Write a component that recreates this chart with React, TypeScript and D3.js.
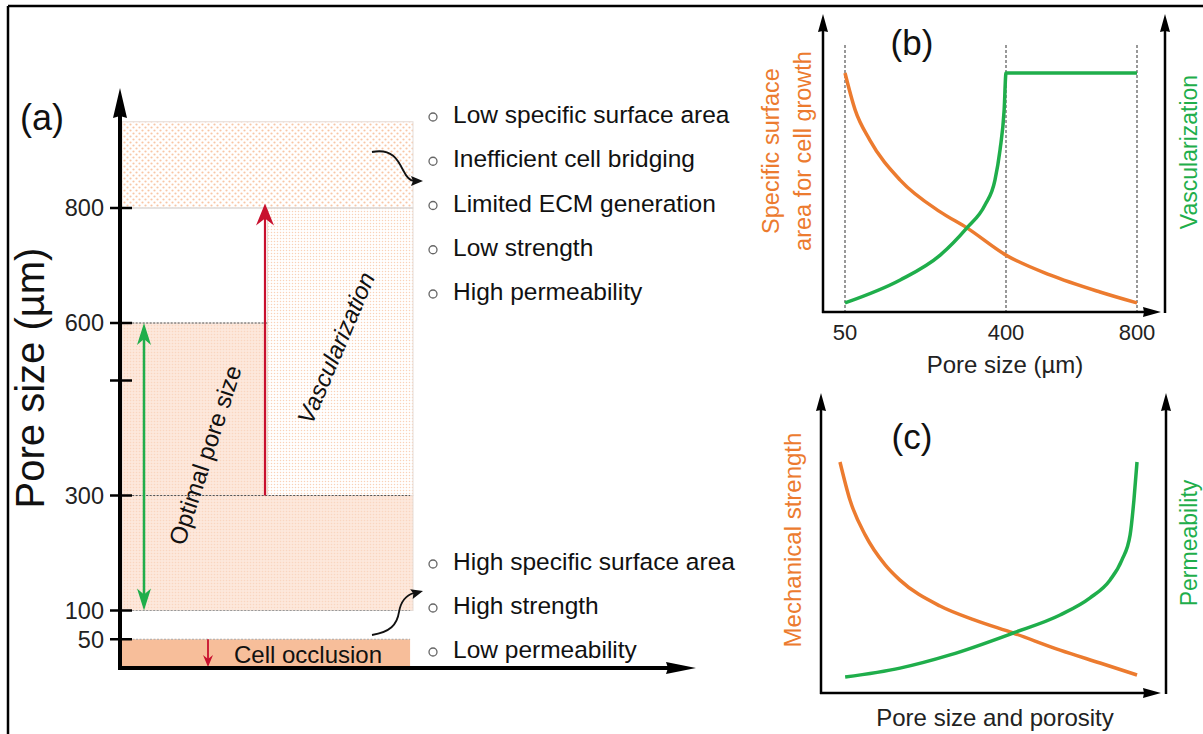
import React from 'react';
import * as d3 from 'd3';

// ---- panel (a): pore size zones ----
const poreTicks = [50, 100, 300, 500, 600, 800];
const poreTickLabels = ['50', '100', '300', '', '600', '800'];
const bandNames = ['coarse', 'vascular', 'optimalUpper', 'optimalLower', 'occlusion'];
const bandFrom = [800, 300, 300, 100, 0];
const bandTo = [950, 800, 600, 300, 50];
const guideLevels = [600, 300, 100, 50];
const optimalRange = [600, 100];
const vascularRange = [300, 808];
const occlusionRange = [50, 0];
const upperNotes = ['Low specific surface area', 'Inefficient cell bridging', 'Limited ECM generation', 'Low strength', 'High permeability'];
const lowerNotes = ['High specific surface area', 'High strength', 'Low permeability'];

// ---- panel (b): specific surface vs vascularization ----
const bTicks = [50, 400, 800];
const bSurfacePore = [50, 72, 104, 170, 257, 315, 400, 534, 687, 800];
const bSurface = [0.895, 0.757, 0.644, 0.494, 0.375, 0.315, 0.213, 0.139, 0.075, 0.034];
const bVascPore = [50, 170, 257, 315, 354, 376, 387, 396, 400, 800];
const bVasc = [0.034, 0.12, 0.213, 0.315, 0.4, 0.494, 0.607, 0.757, 0.895, 0.895];

// ---- panel (c): strength vs permeability ----
const cStrengthX = [0.055, 0.084, 0.128, 0.186, 0.228, 0.345, 0.446, 0.557, 0.693, 0.809, 0.916];
const cStrength = [0.77, 0.643, 0.527, 0.427, 0.377, 0.29, 0.243, 0.2, 0.143, 0.1, 0.06];
const cPermX = [0.07, 0.229, 0.374, 0.557, 0.693, 0.78, 0.838, 0.872, 0.896, 0.907, 0.916];
const cPerm = [0.053, 0.083, 0.127, 0.2, 0.26, 0.317, 0.377, 0.443, 0.527, 0.643, 0.77];

const FONT = '"Liberation Sans", Arial, Helvetica, sans-serif';
const ORANGE = '#ec7b2f';
const GREEN = '#1fae4b';
const RED = '#c8102e';

// horizontal extent of zones, in % of zone width
const bandLayout = {
    coarse: [0, 100],
    vascular: [50, 100],
    optimalUpper: [0, 50],
    optimalLower: [0, 100],
    occlusion: [0, 99],
};
const bandFill = {
    coarse: 'url(#dotsCoarse)',
    vascular: 'url(#dotsFine)',
    optimalUpper: 'url(#peach)',
    optimalLower: 'url(#peach)',
    occlusion: '#f7be9a',
};
const guideLayout = [[3.5, 50, '#555'], [3.5, 99, '#555'], [3.5, 99, '#999'], [0, 99, '#aaa']];

function head(tx, ty, angle, len, hw, notch = 0) {
    const a = angle * Math.PI / 180;
    const ux = Math.cos(a), uy = Math.sin(a);
    const px = -uy, py = ux;
    const bx = tx - ux * len, by = ty - uy * len;
    const nx = bx + ux * notch, ny = by + uy * notch;
    return `${tx},${ty} ${bx + px * hw},${by + py * hw} ${nx},${ny} ${bx - px * hw},${by - py * hw}`;
}

export default function App() {
    // panel (a) scales
    const yA = d3.scaleLinear().domain([0, 800]).range([668, 208]);
    const xA = d3.scaleLinear().domain([0, 100]).range([122, 413]);
    const upperRow = d3.scaleLinear().domain([0, upperNotes.length - 1]).range([123, 300]);
    const lowerRow = d3.scaleLinear().domain([0, lowerNotes.length - 1]).range([570, 658]);

    // panel (b) scales (schematic, piecewise axis)
    const xB = d3.scaleLinear().domain([50, 400, 800]).range([845, 1006, 1137]);
    const yB = d3.scaleLinear().domain([0, 1]).range([312, 45]);
    const lineB = (xs, ys) => d3.line().x(i => xB(xs[i])).y(i => yB(ys[i])).curve(d3.curveMonotoneX)(d3.range(xs.length));

    // panel (c) scales
    const xC = d3.scaleLinear().domain([0, 1]).range([821, 1166]);
    const yC = d3.scaleLinear().domain([0, 1]).range([693, 393]);
    const lineC = (xs, ys) => d3.line().x(i => xC(xs[i])).y(i => yC(ys[i])).curve(d3.curveMonotoneX)(d3.range(xs.length));

    const yAxisX = 120, xAxisY = yA(0);

    return (
        <svg width={1203} height={734} style={{position: 'absolute', left: 0, top: 0, background: '#fff'}}
             fontFamily={FONT}>
            <defs>
                <pattern id='dotsCoarse' width='6' height='6' patternUnits='userSpaceOnUse'>
                    <circle cx='1.5' cy='1.5' r='1.1' fill='#f8c6a6'/>
                    <circle cx='4.5' cy='4.5' r='1.1' fill='#f8c6a6'/>
                </pattern>
                <pattern id='dotsFine' width='3' height='3' patternUnits='userSpaceOnUse'>
                    <circle cx='1.5' cy='1.5' r='0.75' fill='#f9d2b8'/>
                </pattern>
                <pattern id='peach' width='3' height='3' patternUnits='userSpaceOnUse'>
                    <rect width='3' height='3' fill='#fde8dc'/>
                    <circle cx='1.5' cy='1.5' r='0.8' fill='#fad6c0'/>
                </pattern>
            </defs>

            {/* frame */}
            <line x1={8} y1={6} x2={1203} y2={6} stroke='#000' strokeWidth={2.5}/>
            <line x1={8} y1={6} x2={8} y2={734} stroke='#000' strokeWidth={2.5}/>

            {/* ===== panel (a) ===== */}
            {bandNames.map((name, i) => (
                <rect key={name}
                      x={xA(bandLayout[name][0])} y={yA(bandTo[i])}
                      width={xA(bandLayout[name][1]) - xA(bandLayout[name][0])}
                      height={yA(bandFrom[i]) - yA(bandTo[i])}
                      fill={bandFill[name]}
                      stroke={name === 'occlusion' ? 'none' : '#e6dcd6'} strokeWidth={1}/>
            ))}
            <line x1={xA(0)} x2={xA(100)} y1={yA(800)} y2={yA(800)} stroke='#d8d8d8' strokeWidth={1.2}/>
            {guideLevels.map((v, i) => (
                <line key={v} x1={xA(guideLayout[i][0])} x2={xA(guideLayout[i][1])} y1={yA(v)} y2={yA(v)}
                      stroke={guideLayout[i][2]} strokeWidth={1} strokeDasharray='2,1.5'/>
            ))}

            {/* optimal pore size double arrow */}
            <line x1={144} x2={144} y1={yA(optimalRange[0]) + 14} y2={yA(optimalRange[1]) - 14} stroke={GREEN} strokeWidth={2.5}/>
            <polygon points={head(144, yA(optimalRange[0]), -90, 22, 7, 6)} fill={GREEN}/>
            <polygon points={head(144, yA(optimalRange[1]), 90, 22, 7, 6)} fill={GREEN}/>

            {/* vascularization arrow */}
            <line x1={265} x2={265} y1={yA(vascularRange[0])} y2={yA(vascularRange[1]) + 14} stroke={RED} strokeWidth={2.2}/>
            <polygon points={head(265, yA(vascularRange[1]), -90, 22, 9, 7)} fill={RED}/>

            {/* cell occlusion arrow */}
            <line x1={208} x2={208} y1={yA(occlusionRange[0])} y2={yA(occlusionRange[1]) - 6} stroke={RED} strokeWidth={1.8}/>
            <polygon points={head(208, yA(occlusionRange[1]) - 1, 90, 12, 5, 4)} fill={RED}/>
            <text x={308} y={663} fontSize={24} textAnchor='middle' fill='#111'>Cell occlusion</text>

            {/* rotated labels */}
            <text transform='translate(205,455) rotate(-72)' fontSize={24} textAnchor='middle' dy='0.35em' fill='#111'>Optimal pore size</text>
            <text transform='translate(336,348) rotate(-67)' fontSize={24} fontStyle='italic' textAnchor='middle' dy='0.35em' fill='#111'>Vascularization</text>

            {/* axes */}
            <line x1={yAxisX} x2={yAxisX} y1={xAxisY + 2} y2={yA(950) - 10} stroke='#000' strokeWidth={4}/>
            <polygon points={head(yAxisX, 88, -90, 30, 7, 2)} fill='#000'/>
            <line x1={yAxisX - 2} x2={670} y1={xAxisY} y2={xAxisY} stroke='#000' strokeWidth={4}/>
            <polygon points={head(696, xAxisY, 0, 30, 6, 2)} fill='#000'/>
            {poreTicks.map((t, i) => (
                <g key={t}>
                    <line x1={110} x2={132} y1={yA(t)} y2={yA(t)} stroke='#000' strokeWidth={2.5}/>
                    <text x={104} y={yA(t)} dy='0.36em' fontSize={23.5} textAnchor='end' fill='#222'>{poreTickLabels[i]}</text>
                </g>
            ))}
            <text transform='translate(44,378) rotate(-90)' fontSize={40} textAnchor='middle' fill='#111'>Pore size (µm)</text>
            <text x={20} y={130} fontSize={36} fill='#111'>(a)</text>

            {/* curved pointers */}
            <path d='M372,152 C392,148 398,160 403,170 C407,178 410,181 414,181' fill='none' stroke='#111' strokeWidth={1.8}/>
            <polygon points={head(423, 181, 0, 12, 5, 2)} fill='#111'/>
            <path d='M372,635 C390,632 397,625 399,612 C401,600 407,595 414,593' fill='none' stroke='#111' strokeWidth={1.8}/>
            <polygon points={head(423, 591, -15, 12, 5, 2)} fill='#111'/>

            {/* notes */}
            {upperNotes.map((n, i) => (
                <g key={n}>
                    <circle cx={433} cy={upperRow(i) - 6} r={4} fill='none' stroke='#666' strokeWidth={1.3}/>
                    <text x={453} y={upperRow(i)} fontSize={24.5} fill='#111'>{n}</text>
                </g>
            ))}
            {lowerNotes.map((n, i) => (
                <g key={n}>
                    <circle cx={433} cy={lowerRow(i) - 6} r={4} fill='none' stroke='#666' strokeWidth={1.3}/>
                    <text x={453} y={lowerRow(i)} fontSize={24.5} fill='#111'>{n}</text>
                </g>
            ))}

            {/* ===== panel (b) ===== */}
            {bTicks.map(t => (
                <g key={t}>
                    <line x1={xB(t)} x2={xB(t)} y1={45} y2={312} stroke='#555' strokeWidth={1.2} strokeDasharray='3,2'/>
                    <text x={xB(t)} y={340} fontSize={22} textAnchor='middle' fill='#222'>{t}</text>
                </g>
            ))}
            <path d={lineB(bSurfacePore, bSurface)} fill='none' stroke={ORANGE} strokeWidth={3.5}/>
            <path d={lineB(bVascPore, bVasc)} fill='none' stroke={GREEN} strokeWidth={3.5}/>
            <line x1={823} x2={823} y1={313} y2={28} stroke='#000' strokeWidth={2.5}/>
            <polygon points={head(823, 14, -90, 18, 5, 1)} fill='#000'/>
            <line x1={1165} x2={1165} y1={313} y2={28} stroke='#000' strokeWidth={2.5}/>
            <polygon points={head(1165, 14, -90, 18, 5, 1)} fill='#000'/>
            <line x1={822} x2={1150} y1={312} y2={312} stroke='#000' strokeWidth={2.5}/>
            <polygon points={head(1161, 312, 0, 18, 5, 1)} fill='#000'/>
            <text x={912} y={55} fontSize={35} textAnchor='middle' fill='#111'>(b)</text>
            <text x={1005} y={373} fontSize={24} textAnchor='middle' fill='#222'>Pore size (µm)</text>
            <text transform='translate(779,151) rotate(-90)' fontSize={23.5} textAnchor='middle' fill={ORANGE}>Specific surface</text>
            <text transform='translate(811,151) rotate(-90)' fontSize={23.5} textAnchor='middle' fill={ORANGE}>area for cell growth</text>
            <text transform='translate(1197,152) rotate(-90)' fontSize={23} textAnchor='middle' fill={GREEN}>Vascularization</text>

            {/* ===== panel (c) ===== */}
            <path d={lineC(cStrengthX, cStrength)} fill='none' stroke={ORANGE} strokeWidth={3.5}/>
            <path d={lineC(cPermX, cPerm)} fill='none' stroke={GREEN} strokeWidth={3.5}/>
            <line x1={821} x2={821} y1={694} y2={408} stroke='#000' strokeWidth={2.5}/>
            <polygon points={head(821, 393, -90, 18, 5, 1)} fill='#000'/>
            <line x1={1166} x2={1166} y1={694} y2={408} stroke='#000' strokeWidth={2.5}/>
            <polygon points={head(1166, 393, -90, 18, 5, 1)} fill='#000'/>
            <line x1={820} x2={1150} y1={693} y2={693} stroke='#000' strokeWidth={2.5}/>
            <polygon points={head(1161, 693, 0, 18, 5, 1)} fill='#000'/>
            <text x={912} y={449} fontSize={35} textAnchor='middle' fill='#111'>(c)</text>
            <text x={995} y={726} fontSize={24} textAnchor='middle' fill='#222'>Pore size and porosity</text>
            <text transform='translate(801,540) rotate(-90)' fontSize={24} textAnchor='middle' fill={ORANGE}>Mechanical strength</text>
            <text transform='translate(1197,543) rotate(-90)' fontSize={23} textAnchor='middle' fill={GREEN}>Permeability</text>
        </svg>
    );
}
